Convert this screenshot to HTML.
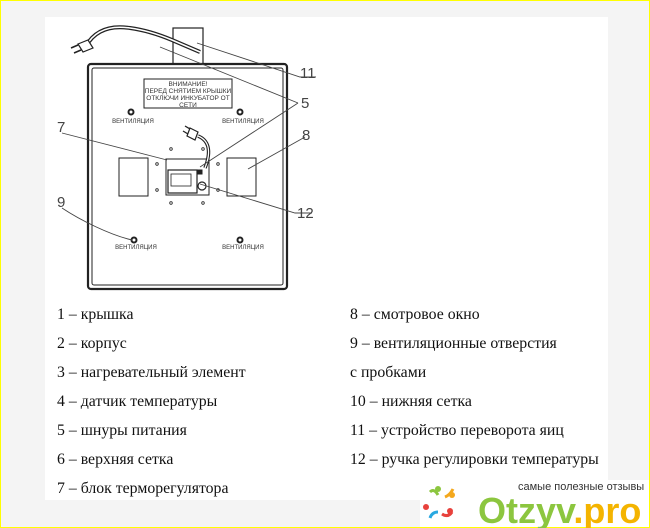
<!DOCTYPE html>
<html><head><meta charset="utf-8"><style>
html,body{margin:0;padding:0}
body{width:650px;height:528px;position:relative;overflow:hidden;background:#f4f4f4;font-family:"Liberation Serif",serif}
.frame{position:absolute;left:0;top:0;width:648px;height:526px;border:1px solid #ffff00;}
.white{position:absolute;left:45px;top:17px;width:563px;height:483px;background:#fff}
.logo{position:absolute;left:420px;top:480px;width:229px;height:47px;background:#fff}
.t{position:absolute;font-size:15.8px;color:#111;white-space:nowrap;line-height:18px}
</style></head><body>
<div class="frame"></div>
<div class="white"></div>
<div class="logo"></div>
<svg style="position:absolute;left:0;top:0" width="650" height="528">
<g fill="none" stroke="#222">
<rect x="173" y="28" width="30" height="36" stroke-width="1.2" fill="#fff"/>
<rect x="88" y="64" width="199" height="225" rx="3" stroke-width="2.2"/>
<rect x="92" y="68" width="191" height="217" rx="2" stroke-width="1"/>
<path d="M86 46 C95 30,110 25,130 28 C145 30,160 35,172 40 L200 52" stroke-width="4"/>
<path d="M86 46 C95 30,110 25,130 28 C145 30,160 35,172 40 L200 52" stroke="#fff" stroke-width="1.5"/>
<path d="M78 44 l10 -4 l5 8 l-10 4 z" fill="#fff" stroke-width="1.2"/>
<path d="M78 45 l-7 3 M81 50 l-7 3" stroke-width="1.5"/>
<rect x="144" y="79" width="88" height="29" stroke-width="1"/>
<circle cx="131" cy="112" r="2.5" stroke-width="2"/>
<circle cx="240" cy="112" r="2.5" stroke-width="2"/>
<circle cx="134" cy="240" r="2.5" stroke-width="2"/>
<circle cx="240" cy="240" r="2.5" stroke-width="2"/>
<rect x="119" y="158" width="29" height="38" stroke-width="1"/>
<rect x="227" y="158" width="29" height="38" stroke-width="1"/>
<rect x="166" y="159" width="43" height="36" stroke-width="1"/>
<rect x="168" y="170" width="29" height="23" stroke-width="1.2"/>
<rect x="171" y="174" width="20" height="12" stroke-width="0.8"/>
<circle cx="202" cy="186" r="4" stroke-width="1.2"/>
<path d="M198 170 h4 v4 h-4z" fill="#222"/>
<path d="M198 136 C208 140,212 150,205 168" stroke-width="3.5"/>
<path d="M198 136 C208 140,212 150,205 168" stroke="#fff" stroke-width="1.3"/>
<path d="M190 128 l8 4 l-3 8 l-8 -4 z" fill="#fff" stroke-width="1.2"/>
<path d="M190 129 l-5 -3 M188 134 l-5 -3" stroke-width="1.3"/>
<g stroke-width="0.8">
<circle cx="171" cy="149" r="1.3"/><circle cx="203" cy="149" r="1.3"/>
<circle cx="157" cy="164" r="1.3"/><circle cx="218" cy="164" r="1.3"/>
<circle cx="157" cy="190" r="1.3"/><circle cx="218" cy="190" r="1.3"/>
<circle cx="171" cy="203" r="1.3"/><circle cx="203" cy="203" r="1.3"/>
</g>
<g stroke="#444" stroke-width="0.9">
<path d="M197 43 L300 77 H316"/>
<path d="M160 47 L298 103"/>
<path d="M200 167 L298 103"/>
<path d="M248 169 L305 137"/>
<path d="M62 133 L167 160"/>
<path d="M200 184 L295 213 H312"/>
<path d="M62 208 C80 220,110 235,132 240"/>
</g>
</g>
<g font-family="Liberation Sans,sans-serif" fill="#333">
<text x="188" y="86" font-size="6.5" text-anchor="middle">ВНИМАНИЕ!</text>
<text x="188" y="93" font-size="6.5" text-anchor="middle">ПЕРЕД СНЯТИЕМ КРЫШКИ</text>
<text x="188" y="100" font-size="6.5" text-anchor="middle">ОТКЛЮЧИ ИНКУБАТОР ОТ</text>
<text x="188" y="107" font-size="6.5" text-anchor="middle">СЕТИ</text>
<text x="133" y="123" font-size="6" text-anchor="middle">ВЕНТИЛЯЦИЯ</text>
<text x="243" y="123" font-size="6" text-anchor="middle">ВЕНТИЛЯЦИЯ</text>
<text x="136" y="249" font-size="6" text-anchor="middle">ВЕНТИЛЯЦИЯ</text>
<text x="243" y="249" font-size="6" text-anchor="middle">ВЕНТИЛЯЦИЯ</text>
<g font-size="15" fill="#444">
<text x="300" y="78">11</text>
<text x="301" y="108">5</text>
<text x="302" y="140">8</text>
<text x="57" y="132">7</text>
<text x="297" y="218">12</text>
<text x="57" y="207">9</text>
</g>
</g>
<g>
<circle cx="438" cy="489" r="3" fill="#8cc63f"/>
<path d="M430 492 q4 -4 8 3" stroke="#8cc63f" stroke-width="3" fill="none"/>
<circle cx="452" cy="495" r="3" fill="#f4a81d"/>
<path d="M445 497 q5 -2 8 -8" stroke="#f4a81d" stroke-width="3" fill="none"/>
<circle cx="426" cy="507" r="3" fill="#e8413c"/>
<circle cx="450" cy="511" r="3" fill="#e8413c"/>
<path d="M442 514 q6 4 10 -2" stroke="#e8413c" stroke-width="3" fill="none"/>
<path d="M430 518 q2 -6 8 -6" stroke="#29a8e0" stroke-width="3" fill="none"/>
</g>
<text x="518" y="490" font-family="Liberation Sans,sans-serif" font-size="11" fill="#333">самые полезные отзывы</text>
<text x="478" y="523" font-family="Liberation Sans,sans-serif" font-weight="bold" font-size="36" fill="#8cc63f">Otzyv<tspan fill="#f4b400">.pro</tspan></text>
</svg>
<div class="t" style="left:57px;top:306px">1 – крышка</div>
<div class="t" style="left:57px;top:335px">2 – корпус</div>
<div class="t" style="left:57px;top:364px">3 – нагревательный элемент</div>
<div class="t" style="left:57px;top:393px">4 – датчик температуры</div>
<div class="t" style="left:57px;top:422px">5 – шнуры питания</div>
<div class="t" style="left:57px;top:451px">6 – верхняя сетка</div>
<div class="t" style="left:57px;top:480px">7 – блок терморегулятора</div>
<div class="t" style="left:350px;top:306px">8 – смотровое окно</div>
<div class="t" style="left:350px;top:335px">9 – вентиляционные отверстия</div>
<div class="t" style="left:350px;top:364px">с пробками</div>
<div class="t" style="left:350px;top:393px">10 – нижняя сетка</div>
<div class="t" style="left:350px;top:422px">11 – устройство переворота яиц</div>
<div class="t" style="left:350px;top:451px">12 – ручка регулировки температуры</div>
</body></html>
